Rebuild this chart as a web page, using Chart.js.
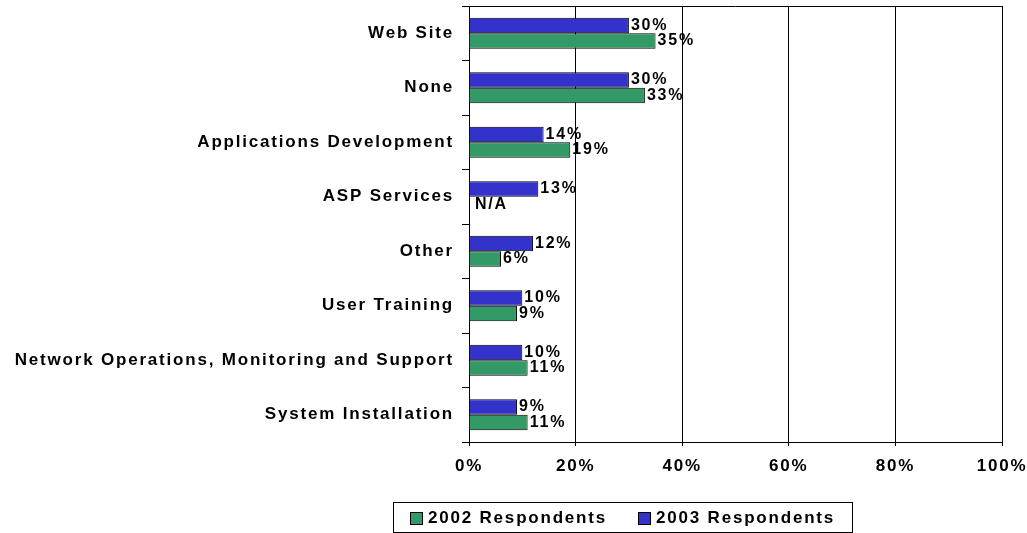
<!DOCTYPE html>
<html>
<head>
<meta charset="utf-8">
<script src="https://cdn.jsdelivr.net/npm/chart.js@4"></script>
<style>
  html, body { margin: 0; padding: 0; background: #fff; }
</style>
</head>
<body>
<canvas id="chart" width="1027" height="533"></canvas>
<script>
// data
const categories = [
  'Web Site',
  'None',
  'Applications Development',
  'ASP Services',
  'Other',
  'User Training',
  'Network Operations, Monitoring and Support',
  'System Installation'
];
const values2003 = [30, 30, 14, 13, 12, 10, 10, 9];
const values2002 = [35, 33, 19, null, 6, 9, 11, 11];
const xTicks = [0, 20, 40, 60, 80, 100];

const FAMILY = '"Liberation Sans", Arial, sans-serif';
const SPACING = '1.8px';

// old Excel text is drawn wide, so give the canvas some letter spacing
const spacing = {
  id: 'spacing',
  beforeUpdate(chart) { chart.ctx.letterSpacing = SPACING; },
  beforeDraw(chart) { chart.ctx.letterSpacing = SPACING; }
};

// line along the top of the plot
const frame = {
  id: 'frame',
  afterDraw(chart) {
    const { ctx, chartArea: a } = chart;
    ctx.save();
    ctx.strokeStyle = '#000';
    ctx.lineWidth = 1;
    ctx.beginPath();
    ctx.moveTo(a.left, Math.round(a.top) + 0.5);
    ctx.lineTo(a.right, Math.round(a.top) + 0.5);
    ctx.stroke();
    ctx.restore();
  }
};

// value labels to the right of each bar
const barLabels = {
  id: 'barLabels',
  afterDatasetsDraw(chart) {
    const ctx = chart.ctx;
    const x0 = chart.scales.x.getPixelForValue(0);
    ctx.save();
    ctx.letterSpacing = SPACING;
    ctx.font = 'bold 16px ' + FAMILY;
    ctx.fillStyle = '#000';
    ctx.textAlign = 'left';
    ctx.textBaseline = 'middle';
    chart.data.datasets.forEach((ds, i) => {
      chart.getDatasetMeta(i).data.forEach((bar, j) => {
        const v = ds.data[j];
        if (v === null) {
          ctx.fillText('N/A', x0 + 6, bar.y);
        } else {
          ctx.fillText(v + '%', bar.x + 2, bar.y);
        }
      });
    });
    ctx.restore();
  }
};

// boxed legend under the axis
const legendBox = {
  id: 'legendBox',
  afterDraw(chart, args, opts) {
    const ctx = chart.ctx;
    ctx.save();
    ctx.letterSpacing = SPACING;
    ctx.font = 'bold 17px ' + FAMILY;
    const items = chart.data.datasets.map(ds => ({ text: ds.label, color: ds.backgroundColor })).reverse();
    const widths = items.map(it => ctx.measureText(it.text).width);
    const box = 13, gapBox = 5, gapItem = 31, pad = 17;
    const total = pad * 2 + items.length * (box + gapBox) + widths.reduce((a, b) => a + b, 0) + gapItem * (items.length - 1);
    const left = Math.round(opts.centerX - total / 2);
    const top = opts.top, h = opts.height;
    ctx.strokeStyle = '#000';
    ctx.lineWidth = 1;
    ctx.strokeRect(left + 0.5, top + 0.5, Math.round(total), h);
    const cy = top + h / 2 + 1;
    let x = left + pad;
    ctx.textBaseline = 'middle';
    ctx.textAlign = 'left';
    items.forEach((it, k) => {
      const by = Math.round(cy - box / 2);
      ctx.fillStyle = it.color;
      ctx.fillRect(x, by, box, box);
      ctx.strokeRect(x + 0.5, by + 0.5, box - 1, box - 1);
      x += box + gapBox;
      ctx.fillStyle = '#000';
      ctx.fillText(it.text, x, cy);
      x += widths[k] + gapItem;
    });
    ctx.restore();
  }
};

const tickFont = { family: FAMILY, size: 17, weight: 'bold' };

new Chart(document.getElementById('chart'), {
  type: 'bar',
  data: {
    labels: categories,
    datasets: [
      {
        label: '2003 Respondents',
        data: values2003,
        backgroundColor: '#3333CC',
        borderColor: '#000',
        borderWidth: 1,
        categoryPercentage: 0.57,
        barPercentage: 1
      },
      {
        label: '2002 Respondents',
        data: values2002,
        backgroundColor: '#339966',
        borderColor: '#000',
        borderWidth: 1,
        categoryPercentage: 0.57,
        barPercentage: 1
      }
    ]
  },
  options: {
    indexAxis: 'y',
    responsive: false,
    animation: false,
    layout: { padding: { top: 6, left: 12, right: 0, bottom: 56 } },
    scales: {
      x: {
        min: 0,
        max: 100,
        afterBuildTicks(scale) { scale.ticks = xTicks.map(v => ({ value: v })); },
        afterFit(scale) {
          scale.height = 35;
          scale.paddingLeft = 0;
          scale.paddingRight = 25;
        },
        ticks: { callback: v => v + '%', color: '#000', padding: 10, font: tickFont, maxRotation: 0 },
        grid: { color: '#000', tickLength: 4 },
        border: { color: '#000' }
      },
      y: {
        afterFit(scale) {
          scale.width = 457;
          scale.paddingTop = 0;
          scale.paddingBottom = 0;
        },
        ticks: { color: '#000', padding: 8, font: tickFont },
        grid: { drawOnChartArea: false, tickLength: 7, color: '#000', offset: true },
        border: { color: '#000' }
      }
    },
    plugins: {
      legend: { display: false },
      tooltip: { enabled: false },
      legendBox: { centerX: 623, top: 502, height: 30 }
    }
  },
  plugins: [spacing, frame, barLabels, legendBox]
});
</script>
</body>
</html>
